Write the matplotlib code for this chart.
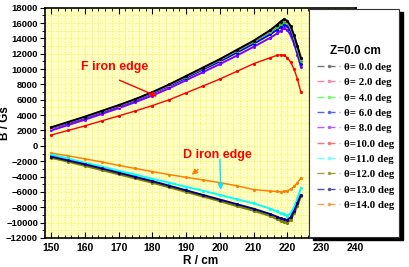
import matplotlib
matplotlib.use("Agg")
import matplotlib.pyplot as plt
from matplotlib.lines import Line2D
from matplotlib.patches import Rectangle

# radius points (cm)
R = [150, 155, 160, 165, 170, 175, 180, 185, 190, 195, 200, 205, 210, 215,
     217, 218, 219, 220, 221, 222, 223, 224]

# field B (Gs) for each theta
B_0 = [2400, 3100, 3800, 4550, 5300, 6100, 7000, 8000, 9100, 10200, 11300, 12500,
       13700, 15100, 15800, 16200, 16500, 16300, 15600, 14400, 13000, 11500]
B_2 = [2350, 3050, 3750, 4500, 5250, 6050, 6950, 7950, 9050, 10150, 11250, 12450,
       13650, 15000, 15700, 16100, 16400, 16200, 15500, 14300, 12900, 11300]
B_4 = [2400, 3050, 3750, 4500, 5250, 6050, 6950, 7900, 9000, 10100, 11200, 12350,
       13550, 14850, 15500, 15900, 16200, 16000, 15300, 14100, 12600, 11000]
B_6 = [2300, 2950, 3650, 4400, 5150, 5950, 6850, 7800, 8850, 9950, 11000, 12150,
       13300, 14550, 15150, 15500, 15800, 15600, 14900, 13700, 12300, 10700]
B_8 = [2000, 2700, 3400, 4150, 4900, 5700, 6550, 7500, 8550, 9600, 10650, 11750,
       12900, 14100, 14650, 15000, 15300, 15100, 14400, 13300, 11900, 10300]
B_10 = [1400, 2000, 2600, 3250, 3900, 4550, 5250, 6000, 6900, 7800, 8700, 9700,
        10700, 11500, 11800, 11870, 11800, 11500, 10900, 10000, 8700, 7000]
B_11 = [-1150, -1650, -2200, -2700, -3250, -3750, -4300, -4800, -5350, -5850, -6400,
        -6950, -7500, -8200, -8550, -8750, -8950, -9100, -8800, -8000, -6900, -5500]
B_12 = [-1550, -2050, -2600, -3150, -3700, -4250, -4800, -5400, -6000, -6600, -7200,
        -7850, -8450, -9150, -9550, -9750, -9950, -10000, -9650, -8800, -7800, -6600]
B_13 = [-1400, -1900, -2400, -2950, -3500, -4050, -4600, -5200, -5800, -6400, -7000,
        -7600, -8200, -8900, -9250, -9450, -9600, -9650, -9300, -8500, -7500, -6400]
B_14 = [-950, -1300, -1700, -2100, -2550, -2950, -3350, -3750, -4100, -4450, -4800,
        -5200, -5700, -5900, -5950, -6000, -5950, -5850, -5650, -5300, -4800, -4200]

series = [B_0, B_2, B_4, B_6, B_8, B_10, B_11, B_12, B_13, B_14]
labels = ['\u03b8= 0.0 deg', '\u03b8= 2.0 deg', '\u03b8= 4.0 deg', '\u03b8= 6.0 deg',
          '\u03b8= 8.0 deg', '\u03b8=10.0 deg', '\u03b8=11.0 deg', '\u03b8=12.0 deg',
          '\u03b8=13.0 deg', '\u03b8=14.0 deg']
colors = ['black', '#ff66cc', '#00dd00', '#0000ff', '#8000ff', '#ff0000',
          '#00ffff', '#808000', '#000080', '#ff8000']
legend_colors = ['#777777', '#ff80b0', '#66ff66', '#6060ff', '#b060ff', '#ff7070',
                 '#70ffff', '#a0a040', '#5050a0', '#ffa040']
widths = [1.4, 1.4, 1.4, 1.4, 1.4, 1.0, 1.4, 1.6, 1.4, 1.1]

fig = plt.figure(figsize=(4.09, 2.67), dpi=100)
ax = fig.add_axes([0.110, 0.109, 0.760, 0.862])
ax.set_facecolor('#ffffc4')

# draw order: black / navy end up on top of their groups
for i in [9, 6, 7, 8, 5, 4, 3, 2, 1, 0]:
    ax.plot(R, series[i], color=colors[i], lw=widths[i], marker='.', ms=2.5)

ax.set_xlim(148.2, 240.3)
ax.set_ylim(-12000, 18000)
ax.set_xticks(range(150, 241, 10))
ax.set_xticks(range(150, 241, 2), minor=True)
ax.set_yticks(range(-12000, 18001, 2000))
ax.set_yticks(range(-12000, 18001, 1000), minor=True)
ax.grid(True, which='both', color='#f2f060', ls=':', lw=0.7)
ax.set_axisbelow(True)
ax.tick_params(axis='x', which='both', direction='in', top=True, labelsize=7.5, pad=4)
ax.tick_params(axis='x', which='major', length=4)
ax.tick_params(axis='x', which='minor', length=2)
ax.tick_params(axis='y', which='both', direction='out', labelsize=6.8, pad=1.5)
ax.tick_params(axis='y', which='major', length=3.5)
ax.tick_params(axis='y', which='minor', length=2)
for lab in ax.get_xticklabels() + ax.get_yticklabels():
    lab.set_fontweight('bold')
    lab.set_family('Liberation Sans')
for sp in ax.spines.values():
    sp.set_linewidth(1.2)

ax.set_xlabel('R / cm', fontsize=8.5, fontweight='bold', family='Liberation Sans', labelpad=1)
ax.set_ylabel('B / Gs', fontsize=8.5, fontweight='bold', family='Liberation Sans')
ax.yaxis.set_label_coords(-0.108, 0.5)

# annotations
ax.text(159.0, 10300, 'F iron edge', color='red', fontsize=9, fontweight='bold',
        family='Liberation Sans', va='center')
ax.annotate('', xy=(182.2, 6300), xytext=(169.5, 8700),
            arrowprops=dict(arrowstyle='-|>', color='red', lw=1.0, mutation_scale=8))
ax.text(189.0, -1150, 'D iron edge', color='red', fontsize=9, fontweight='bold',
        family='Liberation Sans', va='center')
ax.annotate('', xy=(191.0, -4000), xytext=(194.2, -2850),
            arrowprops=dict(arrowstyle='-|>', color='#ff8000', lw=1.0, mutation_scale=8))
ax.annotate('', xy=(200.3, -6100), xytext=(200.0, -1400),
            arrowprops=dict(arrowstyle='-|>', color='#00e5ff', lw=1.0, mutation_scale=8))

# legend box with black shadow
bx0, by0, bw, bh = 309 / 409, 1 - 237 / 267, 90 / 409, 228 / 267
fig.add_artist(Rectangle((bx0 + 4 / 409, by0 - 3 / 267), bw, bh, transform=fig.transFigure,
                         facecolor='black', edgecolor='black', zorder=10))
fig.add_artist(Rectangle((bx0, by0), bw, bh, transform=fig.transFigure,
                         facecolor='white', edgecolor='#333333', lw=0.8, zorder=11))

handles = [Line2D([0, 0.5, 1], [0, 0, 0], color=c, lw=1.0, ls=(0, (5, 3)), marker='.', ms=3,
                  markevery=[1]) for c in legend_colors]
leg = fig.legend(handles, labels, loc='upper left', bbox_to_anchor=(309 / 409, 1 - 37 / 267),
                 frameon=False, title='Z=0.0 cm', handlelength=2.2, handletextpad=0.35,
                 labelspacing=0.53, borderpad=0.2,
                 prop={'family': 'Liberation Serif', 'weight': 'bold', 'size': 7.8},
                 title_fontproperties={'family': 'Liberation Sans', 'weight': 'bold',
                                       'size': 8.5})
leg.set_zorder(12)

fig.savefig('out.png', dpi=100)
